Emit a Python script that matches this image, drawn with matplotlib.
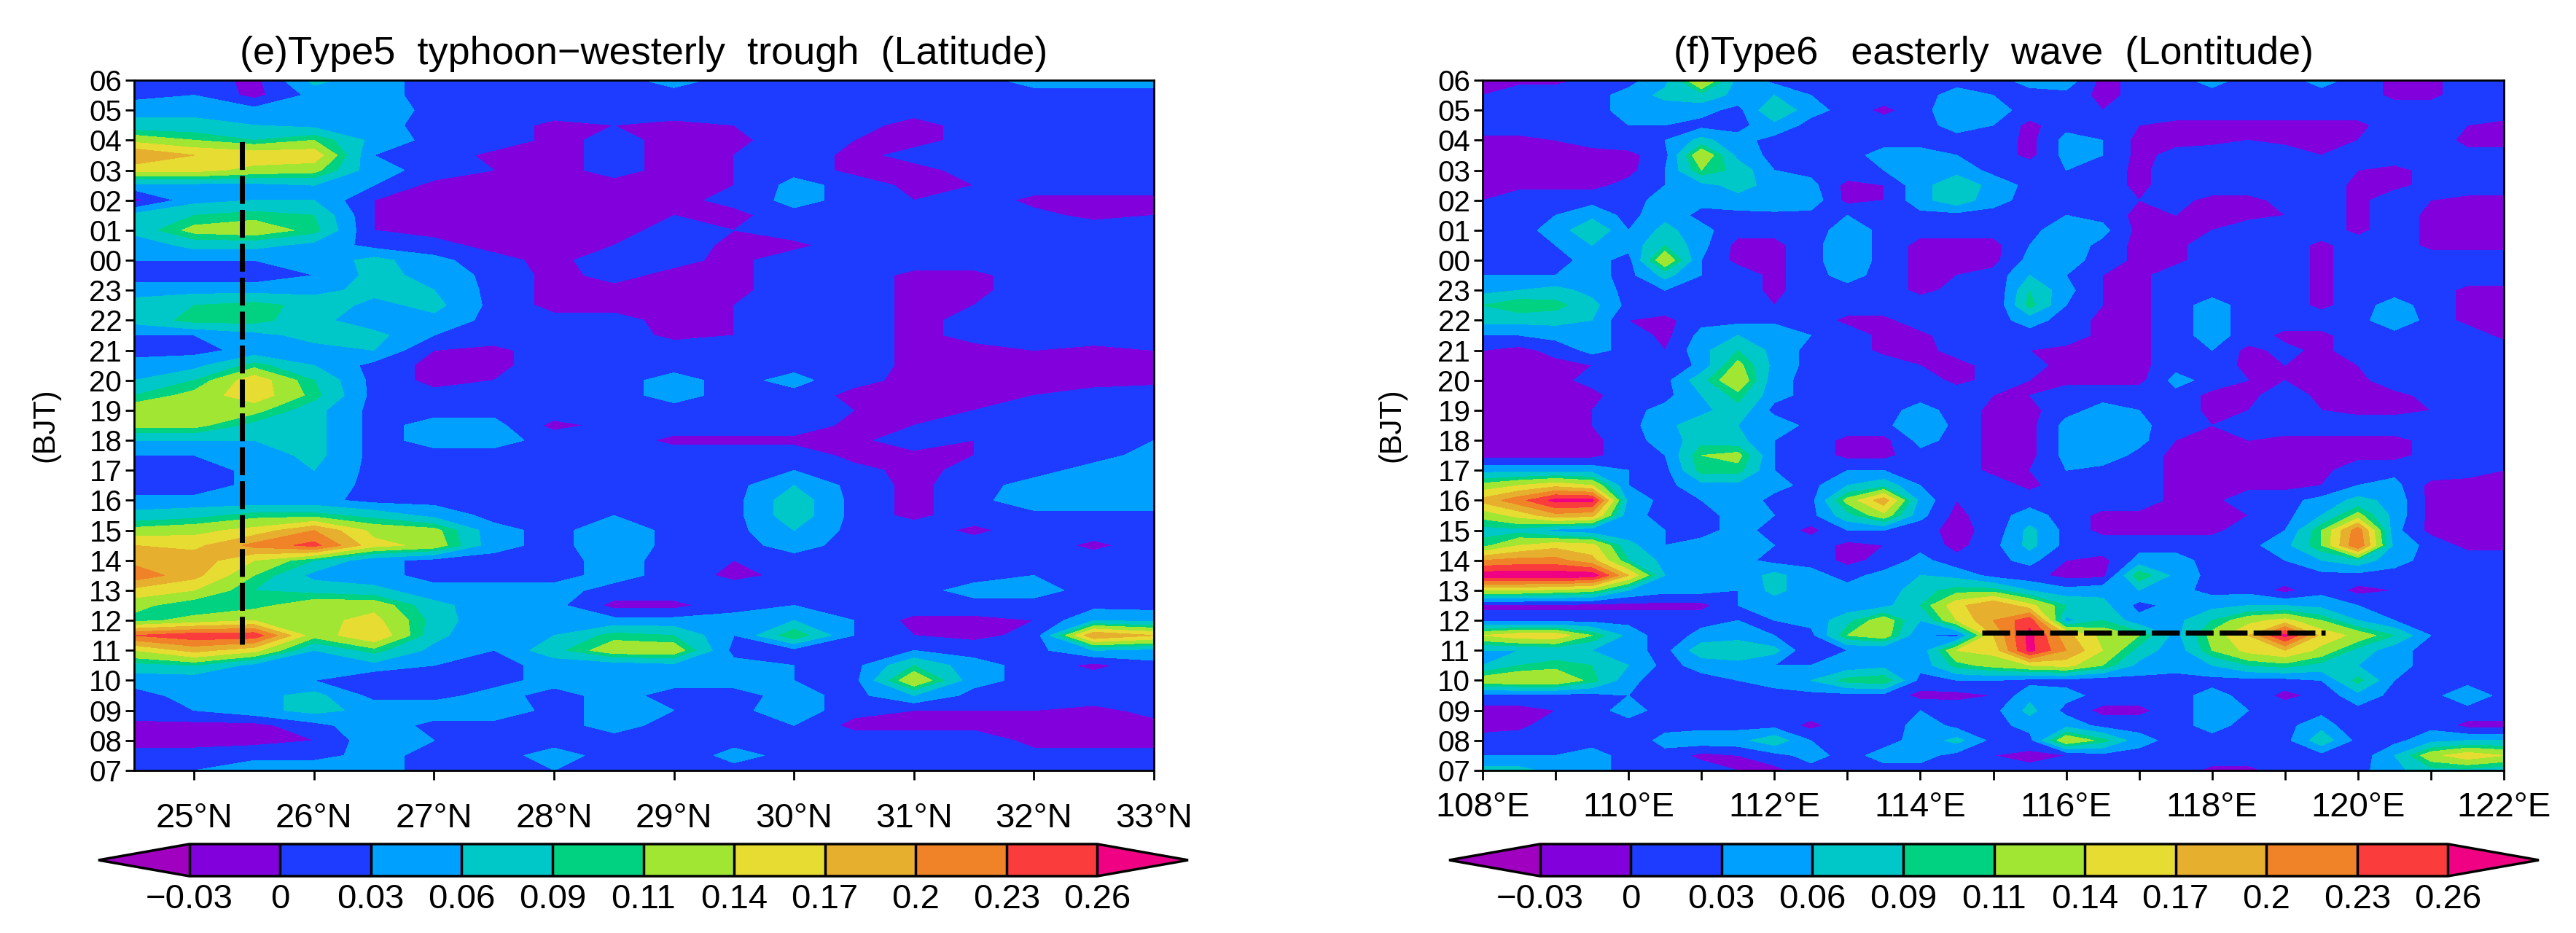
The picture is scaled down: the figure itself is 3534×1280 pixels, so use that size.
#Diurnal cross sections (e) and (f), contour fill per hour
import numpy as np
import matplotlib
matplotlib.use('Agg')
import matplotlib.pyplot as plt
from matplotlib.colors import ListedColormap, BoundaryNorm

plt.rcParams['font.family'] = ['Liberation Sans', 'DejaVu Sans']

# Colour levels and labels
levels = [-0.03, 0, 0.03, 0.06, 0.09, 0.11, 0.14, 0.17, 0.2, 0.23, 0.26]
level_labels = ['\u22120.03', '0', '0.03', '0.06', '0.09', '0.11', '0.14', '0.17', '0.2', '0.23', '0.26']
fill_colors = ['#8200dc', '#1e3cff', '#00a0ff', '#00c8c8', '#00d282', '#a0e632',
               '#e6dc32', '#e6af2d', '#f08228', '#fa3c3c']
under_color = '#a000c0'
over_color = '#f00082'

# Time axis, bottom to top
hour_labels = ['07', '08', '09', '10', '11', '12', '13', '14', '15', '16', '17', '18',
               '19', '20', '21', '22', '23', '00', '01', '02', '03', '04', '05', '06']
# rows below run from 06 down to 07 in half hours
row_pos = np.arange(23, -0.5, -0.5)

lat = np.arange(24.5, 33.25, 0.5)
lon = np.arange(108, 122.25, 0.5)

# Panel e, values in hundredths
z_e = [
    [ 2, 2,-1, 7, 4, 2, 3, 3, 2, 4, 2, 2, 2, 2, 2, 4, 4, 4],
    [ 2, 3,-1, 4, 4, 2, 2, 2, 2, 2, 2, 2, 2, 2, 2, 2, 2, 2],
    [ 5, 5, 4, 5, 5, 2, 2, 2, 2, 2, 2, 2, 2, 1, 2, 2, 2, 2],
    [ 7, 7, 6, 5, 4, 2, 2,-1, 0,-1, 0, 2, 1,-1, 1, 2, 2, 2],
    [13,11, 9,11, 5, 2, 2,-1, 1,-1,-1, 2, 0,-1, 1, 2, 2, 2],
    [20,17,16,16, 3, 2,-1,-1, 1,-1, 0, 2,-1, 1, 2, 3, 2, 2],
    [15,15,13,12, 4, 2, 0,-1, 1,-1, 0, 2,-1,-1, 1, 2, 2, 2],
    [ 5, 5, 5, 6, 3,-1,-1,-1,-1,-1, 0, 4, 2,-1, 0, 2, 2, 2],
    [-1, 5, 6, 6, 0,-1,-1,-1,-1,-1, 1, 4, 2, 0, 2,-1,-1,-1],
    [ 7, 9,10, 9, 0,-1,-1,-1,-1, 0,-1, 2, 2, 2, 2, 1,-1, 0],
    [ 7,12,13,10, 0,-1,-1,-1,-1, 1, 0, 2, 2, 2, 2, 2, 2, 2],
    [ 4, 7, 7, 5, 2, 1,-1,-1, 0, 2,-1,-1, 2, 2, 2, 2, 2, 2],
    [ 3, 3, 3, 4, 7, 4, 1,-1, 2, 1,-1, 2, 2, 2, 2, 2, 2, 2],
    [ 1, 1, 1, 3, 7, 5, 2,-1, 1,-1,-1, 2, 2,-1,-1, 2, 2, 2],
    [ 5, 5, 5, 5, 7, 6, 2,-1,-1,-1,-1, 2, 2,-1,-1, 2, 2, 2],
    [ 7, 9,10, 8, 5, 7, 2,-1,-1,-1, 0, 2, 2,-1, 0, 2, 2, 2],
    [ 7,10,10, 7, 4, 5, 2, 1, 1,-1, 0, 2, 2,-1, 1, 2, 2, 2],
    [ 3, 3, 5, 7, 7, 3, 2, 2, 2,-1, 0, 2, 2,-1, 1, 2, 2, 2],
    [ 2, 2, 4, 5, 6, 0,-1, 2, 2, 2, 2, 2, 2,-1,-1, 0,-1, 0],
    [ 4, 5,10, 6, 2,-1,-1, 2, 2, 2, 2, 2, 2,-1,-1,-1,-1,-1],
    [ 6, 9,16, 9, 2,-1, 0, 2, 2, 4, 2, 4, 1,-1,-1,-1,-1,-1],
    [ 9,12,16,10, 2, 1, 2, 2, 2, 4, 2, 2,-1,-1,-1, 0, 1, 2],
    [13,13,12, 7, 2, 2, 2, 2, 2, 2, 2, 2, 0,-1, 0, 2, 2, 2],
    [12,12, 8, 7, 2, 4, 4,-1, 1, 2, 2, 2,-1, 0, 1, 2, 2, 2],
    [ 6, 6, 6, 7, 2, 4, 4, 2, 2,-1,-1,-1,-1, 2, 0, 2, 2, 3],
    [ 3, 3, 4, 7, 2, 2, 2, 2, 2, 2, 2, 2,-1,-1, 0, 2, 2, 4],
    [ 1, 1, 4, 6, 2, 2, 2, 2, 2, 2, 2, 3, 1,-1, 1, 2, 4, 5],
    [ 1, 1, 4, 5, 2, 2, 2, 2, 2, 2, 2, 6, 2,-1, 2, 4, 5, 5],
    [ 4, 4, 4, 4, 2, 2, 2, 2, 2, 2, 2, 8, 2,-1, 2, 5, 5, 5],
    [ 7, 8,10,10, 8, 5, 2, 2, 3, 2, 2, 8, 2,-1, 2, 2, 2, 2],
    [12,13,15,20,13,12, 4, 2, 5, 2, 2, 6, 2, 2,-1, 2, 2, 2],
    [17,16,21,24,15,13, 4, 2, 5, 2, 2, 4, 2, 2, 2, 2,-1, 2],
    [19,19,14, 9, 4, 2, 2, 2, 4, 2, 0, 2, 2, 2, 2, 2, 2, 2],
    [22,18,11, 5, 4, 2, 2, 2, 4, 2,-1, 1, 0, 2, 2, 3, 3, 2],
    [16,14, 9, 8, 7, 4, 4, 4, 2, 2, 2, 2, 2, 2, 4, 4, 2, 2],
    [12, 9,10,13,13, 7, 4, 4,-1,-1, 2, 3, 2, 2, 2, 2, 2, 2],
    [10,12,14,13,15, 8, 3, 4, 4, 4, 4, 6, 3,-1,-1, 0, 6, 5],
    [23,25,25,12,17, 7, 3, 6,10, 9, 3,11, 3, 0,-1, 1,20,17],
    [14,18,15, 6,10, 5, 3, 8,13,13, 2, 2, 2, 3, 2, 2, 6, 5],
    [ 8, 9, 5, 4, 5, 3, 2, 4, 4, 5, 4, 3, 2, 9, 4, 2,-1, 2],
    [ 4, 4, 4, 3, 0, 2, 2, 4, 3, 4, 4, 3, 2,14, 4, 2, 2, 2],
    [ 2, 4, 5, 7, 2, 2, 4, 2, 4, 2, 2, 4, 2, 6, 2, 2, 2, 2],
    [ 2, 3, 5, 7, 5, 5, 5, 2, 4, 3, 2, 5, 1, 0, 0, 0,-1, 1],
    [-1,-1,-1, 2, 5, 2, 2, 2, 4, 2, 2, 3,-1,-1,-1,-1,-1,-1],
    [-1,-1,-1, 0, 5, 3, 2, 2, 2, 2, 2, 2, 2, 2, 2,-1,-1,-1],
    [ 1, 1, 2, 2, 4, 2, 2, 4, 2, 1, 4, 2, 2, 2, 2, 1, 1, 1],
    [ 2, 3, 5, 5, 4, 2, 2, 3, 2, 2, 2, 2, 2, 2, 2, 2, 2, 3],
]

# Panel f, values in hundredths
z_f = [
    [-1,-1,-1, 1, 2, 5,15, 5, 2, 2, 2, 2, 2, 2, 2, 4, 5,-1, 1, 2, 4, 2, 2, 4, 2,-1,-1, 2, 2],
    [ 0, 2, 2, 2, 4, 7, 8, 5, 6, 3, 2, 2, 2, 4, 3, 2, 2,-1, 1, 2, 2, 2, 2, 2, 2,-1,-1, 2, 2],
    [ 2, 2, 2, 2, 4, 4, 4, 2, 9, 4, 2,-1, 2, 5, 4, 2, 2, 0, 2, 2, 2, 2, 2, 2, 2, 2, 2, 2, 2],
    [ 2, 2, 2, 2, 3, 3, 2, 2, 5, 2, 2, 2, 2, 4, 3,-1, 2, 2, 0,-1,-1,-1,-1,-1,-1, 2, 2, 0,-1],
    [-1,-1, 0, 1, 2, 3, 7, 4, 2, 2, 2, 2, 2, 2, 2,-1, 4, 3,-1,-1,-1, 0,-1,-1, 0, 2, 2,-1,-1],
    [-1,-1,-1,-1,-1, 2,14, 5, 2, 2, 2, 4, 4, 3, 2,-1, 4, 3,-1, 1, 2, 2, 2, 0, 1, 2, 2, 1, 1],
    [-1,-1,-1,-1,-1, 3,11, 8, 3, 2, 2, 3, 6, 5, 2, 2, 3, 2,-1, 2, 2, 2, 2, 2, 0,-1, 1, 2, 2],
    [-1,-1,-1,-1, 1, 3, 5, 7, 5, 4,-1, 0, 5, 8, 5, 2, 2, 2,-1, 2, 2, 2, 2, 2,-1,-1, 1, 2, 2],
    [ 0, 2, 2, 2, 2, 4, 4, 5, 6, 5,-1, 0, 5, 8, 4, 2, 2, 2, 0, 1,-1,-1, 1, 2,-1, 2, 0,-1,-1],
    [ 2, 2, 3, 5, 2, 5, 2, 2, 2, 2, 3, 2, 2, 2, 2, 2, 3, 2,-1, 0,-1,-1, 0, 2,-1, 2,-1,-1,-1],
    [ 2, 2, 4, 9, 3, 7, 4, 1, 1, 1, 5, 2, 1, 1, 1, 2, 5, 4,-1,-1, 0, 2, 2, 2,-1, 2,-1,-1,-1],
    [ 2, 2, 3, 6, 4, 9, 4,-1,-1, 2, 5, 2,-1,-1,-1, 3, 5, 2,-1,-1, 2, 2, 2,-1, 2, 2,-1,-1,-1],
    [ 2, 2, 2, 4, 2,14, 3,-1,-1, 2, 5, 2,-1,-1,-1, 4, 4, 2,-1,-1, 2, 2, 2,-1, 2, 2, 2, 2, 2],
    [ 3, 3, 3, 4, 2, 7, 3, 2,-1, 2, 4, 2,-1, 0, 1, 6, 3, 0,-1, 2, 2, 2, 2,-1, 2, 2, 2, 2, 2],
    [ 5, 6, 7, 5, 2, 3, 2, 2,-1, 2, 2, 2,-1, 1, 0, 9, 4, 0,-1, 2, 2, 2, 2,-1, 2, 2, 2,-1,-1],
    [ 9,11,10, 7, 2, 2, 2, 2, 0, 2, 2, 2, 2, 2, 0,10, 3, 0,-1, 2, 4, 2, 2,-1, 2, 4, 2,-1,-1],
    [ 7, 7, 7, 6, 0,-1, 2, 2, 2, 2,-1,-1, 2, 2, 2, 4, 2,-1,-1, 2, 4, 2, 2, 2, 2, 5, 2,-1,-1],
    [ 3, 3, 4, 4, 2,-1, 4, 6, 6, 3, 2,-1,-1, 2, 2, 2, 2,-1,-1, 2, 4, 2,-1,-1, 2, 2, 2, 2,-1],
    [ 0,-1, 1, 4, 2, 0, 5, 9, 5, 2, 2,-1,-1, 1, 2, 0,-1,-1,-1, 2, 3,-1, 1,-1, 2, 2, 2, 2, 2],
    [-1,-1,-1, 0, 2, 0, 4,12, 5, 2, 2, 2, 0,-1, 1, 1,-1,-1,-1, 2, 2,-1, 0,-1, 0, 2, 2, 2, 2],
    [-1,-1,-1, 1, 2, 2, 8,14, 4, 2, 2, 2, 2,-1, 1, 0,-1,-1,-1, 4, 2, 0, 0,-1,-1, 2, 2, 2, 2],
    [-1,-1,-1,-1, 2, 2, 6,10, 4, 2, 2, 2, 2, 2, 0, 0, 2, 2, 2, 2,-1,-1, 2,-1,-1,-1, 1, 2, 2],
    [-1,-1,-1, 0, 2, 4, 5, 8, 2, 2, 2, 2, 4, 2,-1,-1, 2, 4, 3, 2,-1, 0, 2, 0,-1,-1, 0, 2, 2],
    [-1,-1,-1, 0, 2, 5, 8, 6, 5, 2, 2, 2, 6, 2,-1,-1, 4, 5, 4, 1, 0, 2, 2, 2, 2, 2, 2, 2, 2],
    [-1,-1,-1,-1, 2, 4, 8, 7, 3, 2,-1,-1, 4, 2,-1,-1, 4, 5, 4, 0,-1, 0,-1,-1,-1,-1, 1, 2, 2],
    [-1,-1,-1,-1, 2, 3,11,12, 3, 2,-1,-1, 2, 2,-1,-1, 4, 5, 2,-1,-1, 0,-1,-1,-1,-1, 1, 2, 2],
    [ 5, 5, 5, 5, 3, 2,10,10, 3, 2, 3, 3, 2, 2,-1, 0, 3, 2, 2,-1,-1,-1,-1,-1, 2, 2, 2, 1, 0],
    [12,14,16,14, 3, 2, 5, 5, 4, 2, 6, 8, 3, 0, 2,-1, 2, 2, 2,-1,-1,-1,-1, 0, 3, 4,-1,-1,-1],
    [18,22,27,27, 5, 2, 3, 5, 2, 2,12,19, 5, 0, 2, 2, 2, 2, 2,-1,-1, 2, 2, 4, 7, 5,-1,-1,-1],
    [12,15,19,18, 4, 2, 2, 4, 3, 2, 8,13, 4,-1, 2, 4, 2,-1,-1,-1,-1, 0, 2, 6,12, 5,-1,-1,-1],
    [ 8, 8, 5, 4, 4, 3, 2, 4, 2,-1, 3, 3, 1,-1, 1, 7, 2,-1,-1,-1,-1, 2, 3,11,22, 4,-1,-1,-1],
    [10,14,16,15, 7, 3, 4, 4, 3, 2,-1, 0, 2,-1, 2, 7, 2, 2, 2, 2, 2, 2, 5,11,23, 5, 2,-1,-1],
    [20,21,21,18, 9, 5, 4, 4, 2, 2,-1, 1, 4, 1, 2, 4, 0,-1, 4, 4, 2, 2, 3, 6, 8, 4, 2, 2, 2],
    [28,28,28,28,17, 6, 4, 4, 7, 4, 2, 4, 6, 5, 2, 1,-1,-1,11, 5, 2, 2, 2, 2, 2, 2, 2, 2, 2],
    [14,14,13,12, 6, 4, 4, 3, 7, 4, 4, 4, 8,10,10, 6, 4, 5, 6, 4, 2, 2,-1, 2,-1, 0, 2, 2, 2],
    [-1,-1,-1,-1,-1,-1,-1, 3, 4, 4, 4, 5, 9,16,20,15, 9, 7, 2, 4, 5, 6, 6, 5, 3, 2, 2, 2, 2],
    [ 2, 2, 2, 2, 2, 2, 2, 3, 3, 4, 8,13, 6,14,20,25, 5, 9, 4, 5, 9,13,15,11, 6, 3, 2, 2, 2],
    [14,16,16,11, 5, 1, 4, 5, 3, 2,11,13, 3, 2,17,27,18,13,11, 5,12,17,27,16,13, 9, 3, 2, 2],
    [ 6, 6, 7, 6, 4, 2, 8, 8, 7, 0, 3, 3, 4,14,15,27,20,14, 8, 4,11,15,17,13, 8, 4, 2, 2, 2],
    [ 6, 9,10, 9, 6, 2, 4, 5, 3, 3, 4, 5, 4,10,12,14,15,11, 5, 4, 6, 9,10, 8, 6, 4, 2, 2, 2],
    [13,14,14,10, 4, 1, 2, 3, 4, 6,10,11, 2, 3, 3, 2, 2, 1, 2, 2, 2, 2, 2, 3,10, 3, 0, 2, 2],
    [ 2, 2, 2, 2, 3, 2, 2, 2, 2, 2, 2, 2,-1,-1, 0, 5, 4, 2, 2, 2, 4, 2,-1, 1, 5, 2, 2, 5, 2],
    [-1,-1, 0, 2, 4, 2, 2, 2, 2, 2, 2, 2, 3, 2, 2, 7, 2,-1,-1, 2, 4, 3, 2, 2, 2, 2, 2, 2, 2],
    [-1,-1, 2, 2, 2, 2, 2, 2, 2,-1, 2, 0, 5, 2, 2, 4, 5, 2, 2, 2, 4, 2, 2, 5, 0, 2, 2,-1,-1],
    [ 1, 2, 2, 2, 1, 4, 5, 5, 8, 3, 2, 2, 4, 7, 2, 2,14,10, 4, 2, 2, 2, 2, 8, 2, 2, 5, 6, 6],
    [ 3, 3, 3, 4, 2, 2,-1, 0, 2, 4, 2, 4, 4, 2, 0,-1, 0, 2, 2, 2, 2, 2, 2, 2, 1, 6,13,16,14],
    [ 7, 7, 5, 4, 2, 2, 2, 0,-1, 2, 2, 2, 2, 2, 1, 1, 2, 2, 2, 2,-1,-1, 2, 2, 2, 5, 8, 8, 7],
]

# Dashed guide lines
dash_e_x = [25.4, 25.4]
dash_e_y = [4.2, 21.0]
dash_f_x = [114.85, 119.55]
dash_f_y = [4.6, 4.6]

lat_ticks = [25, 26, 27, 28, 29, 30, 31, 32, 33]
lat_labels = ['25\u00b0N', '26\u00b0N', '27\u00b0N', '28\u00b0N', '29\u00b0N', '30\u00b0N', '31\u00b0N', '32\u00b0N', '33\u00b0N']
lon_ticks = [108, 110, 112, 114, 116, 118, 120, 122]
lon_minor = [109, 111, 113, 115, 117, 119, 121]
lon_labels = ['108\u00b0E', '110\u00b0E', '112\u00b0E', '114\u00b0E', '116\u00b0E', '118\u00b0E', '120\u00b0E', '122\u00b0E']

W, H = 3534, 1280
cmap = ListedColormap(fill_colors)
cmap.set_under(under_color)
cmap.set_over(over_color)


def px_axes(fig, x0, x1, y0, y1):
    # pixel box measured from the top left of the image
    return fig.add_axes([x0 / W, 1 - y1 / H, (x1 - x0) / W, (y1 - y0) / H])


def panel(fig, box, cbox, x, z, title, xt, xl, dash_x, dash_y, lab_x, pad):
    ax = px_axes(fig, *box)
    ax.set_facecolor(fill_colors[1])
    # each panel its own norm, a shared one resets the other colorbar
    norm = BoundaryNorm(levels, cmap.N)
    cf = ax.contourf(x, row_pos, np.array(z) / 100, levels=levels, cmap=cmap, norm=norm, extend='both')
    ax.plot(dash_x, dash_y, color='black', lw=5, dashes=(5.5, 1.2))
    ax.set_xlim(x[0], x[-1])
    ax.set_ylim(0, 23)
    ax.set_yticks(range(24))
    ax.set_yticklabels(hour_labels, fontsize=29)
    ax.set_xticks(xt)
    ax.set_xticklabels(xl, fontsize=34)
    ax.tick_params(axis='x', length=9, width=2, pad=pad)
    ax.tick_params(axis='y', length=9, width=2, pad=3)
    for s in ax.spines.values():
        s.set_linewidth(2)
    ax.set_title(title, fontsize=39, pad=16)
    fig.text(lab_x / W, 1 - 583 / H, '(BJT)', rotation=90, fontsize=30, ha='center', va='center')

    cax = px_axes(fig, *cbox)
    cb = fig.colorbar(cf, cax=cax, orientation='horizontal', extend='both', extendfrac=0.1,
                      drawedges=True, spacing='uniform')
    cb.set_ticks(levels, labels=level_labels, fontsize=34)
    cb.ax.tick_params(length=0, pad=7)
    cb.outline.set_linewidth(2.5)
    cb.dividers.set_linewidth(2.5)
    return ax


fig = plt.figure(figsize=(W / 100, H / 100), dpi=100)

panel(fig, (184, 1583, 110, 1057), (135, 1630, 1158, 1202), lat, z_e,
      '(e)Type5  typhoon\u2212westerly  trough  (Latitude)',
      lat_ticks, lat_labels, dash_e_x, dash_e_y, 62, 23)
ax_f = panel(fig, (2034, 3435, 110, 1057), (1988, 3483, 1158, 1202), lon, z_f,
             '(f)Type6   easterly  wave  (Lontitude)',
             lon_ticks, lon_labels, dash_f_x, dash_f_y, 1909, 12)
ax_f.set_xticks(lon_minor, minor=True)
ax_f.tick_params(axis='x', which='minor', length=9, width=2)

fig.savefig('out.png', dpi=100)
